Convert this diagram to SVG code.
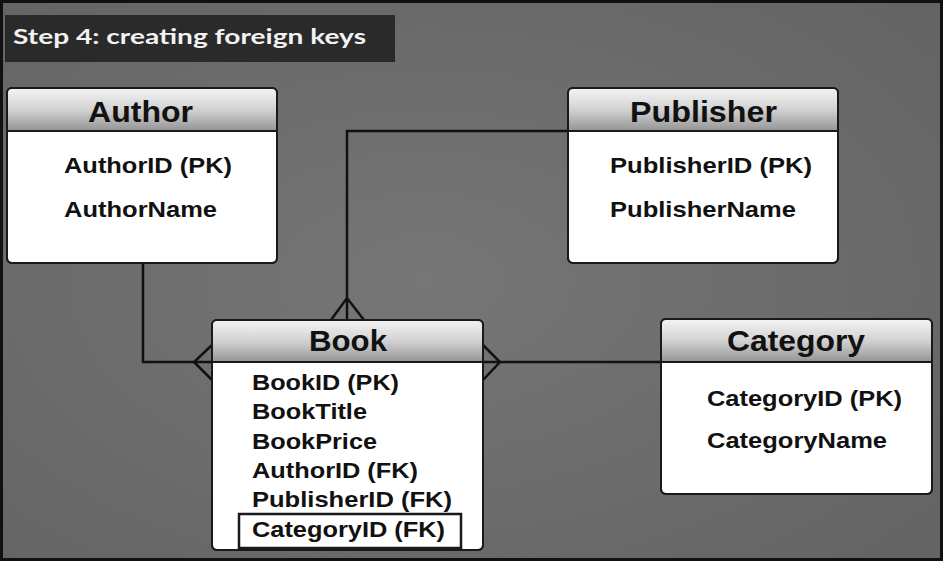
<svg xmlns="http://www.w3.org/2000/svg" width="943" height="561" viewBox="0 0 943 561">
  <defs>
    <linearGradient id="hdr" x1="0" y1="0" x2="0" y2="1">
      <stop offset="0" stop-color="#f4f4f4"/>
      <stop offset="0.5" stop-color="#d2d2d2"/>
      <stop offset="1" stop-color="#949494"/>
    </linearGradient>
    <radialGradient id="bg" cx="0.45" cy="0.5" r="0.7">
      <stop offset="0" stop-color="#767676"/>
      <stop offset="1" stop-color="#646464"/>
    </radialGradient>
    <clipPath id="cA"><rect x="7" y="88" width="270" height="175" rx="5"/></clipPath>
    <clipPath id="cP"><rect x="568" y="88" width="270" height="175" rx="5"/></clipPath>
    <clipPath id="cB"><rect x="212" y="320" width="271" height="230" rx="5"/></clipPath>
    <clipPath id="cC"><rect x="661" y="319" width="271" height="175" rx="5"/></clipPath>
  </defs>
  <style>
    .box { fill: #ffffff; stroke: #1a1a1a; stroke-width: 2; }
    .hd { fill: url(#hdr); }
    .sep { stroke: #1a1a1a; stroke-width: 2; }
    .ttl { font-family: "Liberation Sans", Arial, sans-serif; font-weight: bold; font-size: 30px; fill: #111; }
    .att { font-family: "Liberation Sans", Arial, sans-serif; font-weight: bold; font-size: 22px; fill: #111; }
    .conn { fill: none; stroke: #111; stroke-width: 2.5; }
  </style>

  <rect x="0" y="0" width="943" height="561" fill="url(#bg)"/>
  <rect x="1.5" y="1.5" width="940" height="558" fill="none" stroke="#111" stroke-width="3"/>

  <g id="title">
    <rect x="5" y="15" width="390" height="47" fill="#2a2a2a"/>
    <text x="13" y="44" font-family="Lato, 'Open Sans', sans-serif" font-weight="bold" font-size="20" fill="#f2f2f2" textLength="353" lengthAdjust="spacingAndGlyphs">Step 4: creating foreign keys</text>
  </g>

  <g id="connectors">
    <!-- Author - Book -->
    <polyline class="conn" points="143,263 143,362 212,362"/>
    <polyline class="conn" points="212,345 194,362 212,380"/>
    <!-- Publisher - Book -->
    <polyline class="conn" points="568,131 347,131 347,320"/>
    <polyline class="conn" points="331,320 347,298 364,320"/>
    <!-- Category - Book -->
    <line class="conn" x1="483" y1="362" x2="661" y2="362"/>
    <polyline class="conn" points="483,345 500,362 483,380"/>
  </g>

  <g id="author">
    <rect class="box" x="7" y="88" width="270" height="175" rx="5"/>
    <rect class="hd" x="7" y="88" width="270" height="43" clip-path="url(#cA)"/>
    <rect x="7" y="88" width="270" height="175" rx="5" fill="none" stroke="#1a1a1a" stroke-width="2"/>
    <line class="sep" x1="7" y1="131" x2="277" y2="131"/>
    <text class="ttl" x="88" y="122" textLength="105" lengthAdjust="spacingAndGlyphs">Author</text>
    <text class="att" x="64" y="173" textLength="168" lengthAdjust="spacingAndGlyphs">AuthorID (PK)</text>
    <text class="att" x="64" y="217" textLength="153" lengthAdjust="spacingAndGlyphs">AuthorName</text>
  </g>

  <g id="publisher">
    <rect class="box" x="568" y="88" width="270" height="175" rx="5"/>
    <rect class="hd" x="568" y="88" width="270" height="43" clip-path="url(#cP)"/>
    <rect x="568" y="88" width="270" height="175" rx="5" fill="none" stroke="#1a1a1a" stroke-width="2"/>
    <line class="sep" x1="568" y1="131" x2="838" y2="131"/>
    <text class="ttl" x="630" y="122" textLength="147" lengthAdjust="spacingAndGlyphs">Publisher</text>
    <text class="att" x="610" y="173" textLength="202" lengthAdjust="spacingAndGlyphs">PublisherID (PK)</text>
    <text class="att" x="610" y="217" textLength="186" lengthAdjust="spacingAndGlyphs">PublisherName</text>
  </g>

  <g id="book">
    <rect class="box" x="212" y="320" width="271" height="230" rx="5"/>
    <rect class="hd" x="212" y="320" width="271" height="42" clip-path="url(#cB)"/>
    <rect x="212" y="320" width="271" height="230" rx="5" fill="none" stroke="#1a1a1a" stroke-width="2"/>
    <line class="sep" x1="212" y1="362" x2="483" y2="362"/>
    <text class="ttl" x="309" y="351" textLength="78" lengthAdjust="spacingAndGlyphs">Book</text>
    <text class="att" x="252" y="390" textLength="147" lengthAdjust="spacingAndGlyphs">BookID (PK)</text>
    <text class="att" x="252" y="419" textLength="115" lengthAdjust="spacingAndGlyphs">BookTitle</text>
    <text class="att" x="252" y="449" textLength="125" lengthAdjust="spacingAndGlyphs">BookPrice</text>
    <text class="att" x="252" y="478" textLength="166" lengthAdjust="spacingAndGlyphs">AuthorID (FK)</text>
    <text class="att" x="252" y="507" textLength="200" lengthAdjust="spacingAndGlyphs">PublisherID (FK)</text>
    <rect x="239" y="514" width="222" height="34" fill="none" stroke="#1a1a1a" stroke-width="2.5"/>
    <text class="att" x="252" y="537" textLength="193" lengthAdjust="spacingAndGlyphs">CategoryID (FK)</text>
  </g>

  <g id="category">
    <rect class="box" x="661" y="319" width="271" height="175" rx="5"/>
    <rect class="hd" x="661" y="319" width="271" height="43" clip-path="url(#cC)"/>
    <rect x="661" y="319" width="271" height="175" rx="5" fill="none" stroke="#1a1a1a" stroke-width="2"/>
    <line class="sep" x1="661" y1="362" x2="932" y2="362"/>
    <text class="ttl" x="727" y="351" textLength="138" lengthAdjust="spacingAndGlyphs">Category</text>
    <text class="att" x="707" y="406" textLength="195" lengthAdjust="spacingAndGlyphs">CategoryID (PK)</text>
    <text class="att" x="707" y="448" textLength="180" lengthAdjust="spacingAndGlyphs">CategoryName</text>
  </g>
</svg>
